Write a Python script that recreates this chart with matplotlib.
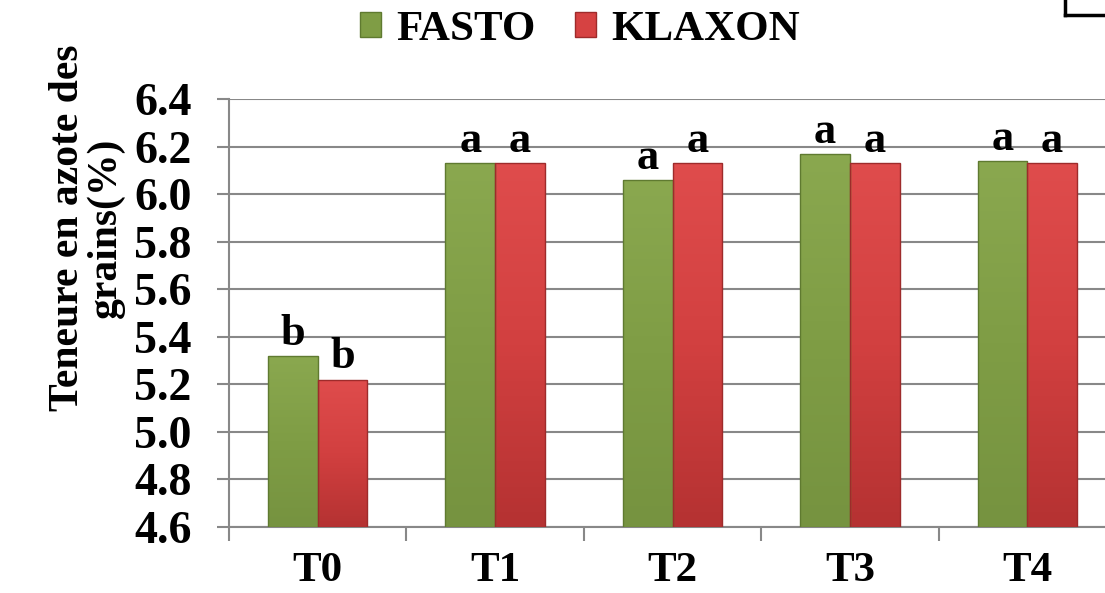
import matplotlib
matplotlib.use("Agg")
import matplotlib.pyplot as plt
from matplotlib.lines import Line2D
from matplotlib.colors import LinearSegmentedColormap
import numpy as np

plt.rcParams['font.family'] = ['Liberation Serif', 'DejaVu Serif']
plt.rcParams['font.weight'] = 'bold'

# données
categories = ['T0', 'T1', 'T2', 'T3', 'T4']
fasto = [5.32, 6.13, 6.06, 6.17, 6.14]
klaxon = [5.22, 6.13, 6.13, 6.13, 6.13]
fasto_letters = ['b', 'a', 'a', 'a', 'a']
klaxon_letters = ['b', 'a', 'a', 'a', 'a']
yticks = [4.6, 4.8, 5.0, 5.2, 5.4, 5.6, 5.8, 6.0, 6.2, 6.4]

green = '#7f9d45'
red = '#d64242'

fig = plt.figure(figsize=(11.05, 5.93), dpi=100)
ax = fig.add_axes([229 / 1105, 1 - 527 / 593, 887 / 1105, 428 / 593])

x = np.arange(len(categories))
w = 0.28
b1 = ax.bar(x - w / 2, [v - 4.6 for v in fasto], w, bottom=4.6, color=green,
            edgecolor='#5f7a30', linewidth=1, label='FASTO', zorder=3)
b2 = ax.bar(x + w / 2, [v - 4.6 for v in klaxon], w, bottom=4.6, color=red,
            edgecolor='#9e2b2b', linewidth=1, label='KLAXON', zorder=3)

# léger dégradé vertical sur les barres (clair en haut)
grad = np.linspace(0, 1, 100).reshape(-1, 1)
cmaps = [LinearSegmentedColormap.from_list('g', ['#8aa84f', '#7f9d45', '#769340']),
         LinearSegmentedColormap.from_list('r', ['#df4c4c', '#d24040', '#b53232'])]
for bars, cm in zip([b1, b2], cmaps):
    for p in bars:
        x0, y0 = p.get_x(), p.get_y()
        im = ax.imshow(grad, cmap=cm, aspect='auto', zorder=3.5, origin='upper',
                       extent=(x0, x0 + p.get_width(), y0, y0 + p.get_height()))
        im.set_clip_path(p)
        p.set_zorder(4)
        p.set_facecolor('none')

ax.set_xlim(-0.5, len(categories) - 0.5)
ax.set_ylim(4.6, 6.4)

for i in range(len(categories)):
    ax.annotate(fasto_letters[i], (x[i] - w / 2, fasto[i]), xytext=(0, 8),
                textcoords='offset points', ha='center', va='baseline',
                fontsize=32, fontweight='bold')
    ax.annotate(klaxon_letters[i], (x[i] + w / 2, klaxon[i]), xytext=(0, 8),
                textcoords='offset points', ha='center', va='baseline',
                fontsize=32, fontweight='bold')

ax.set_yticks(yticks)
ax.set_yticklabels([f"{t:.1f}" for t in yticks], fontsize=33, fontweight='bold')
ax.set_xticks(x)
ax.set_xticklabels(categories, fontsize=31, fontweight='bold')
ax.set_xticks(np.arange(-0.5, len(categories)), minor=True)

ax.tick_params(axis='x', which='major', length=0, pad=18)
ax.tick_params(axis='x', which='minor', length=10, width=1.5, color='#888888', direction='out')
ax.tick_params(axis='y', length=9, width=1.5, color='#888888', pad=18)

ax.yaxis.grid(True, color='#888888', linewidth=1.5, zorder=0)
ax.set_axisbelow(True)
for s in ['top', 'right']:
    ax.spines[s].set_visible(False)
ax.spines['left'].set_color('#888888')
ax.spines['left'].set_linewidth(1.5)
ax.spines['bottom'].set_color('#888888')
ax.spines['bottom'].set_linewidth(1.5)

fig.text(87 / 1105, 1 - 228 / 593, 'Teneure en azote des\ngrains(%)', rotation=90,
         ha='center', va='center', multialignment='center',
         fontweight='bold', linespacing=1.0, fontsize=30)

leg = fig.legend(loc='center', bbox_to_anchor=(580 / 1105, 1 - 30 / 593), ncol=2,
                 frameon=False, handlelength=0.5, handleheight=0.5,
                 handletextpad=0.35, columnspacing=0.9, prop={'weight': 'bold', 'size': 31})
for h, c in zip(leg.legend_handles, [green, red]):
    h.set_facecolor(c)

# coin du cadre en haut à droite
fig.add_artist(Line2D([1065 / 1105, 1065 / 1105], [1, 1 - 15 / 593], color='black', linewidth=2.5))
fig.add_artist(Line2D([1065 / 1105, 1], [1 - 15 / 593, 1 - 15 / 593], color='black', linewidth=2.5))

fig.savefig('out.png', dpi=100)
